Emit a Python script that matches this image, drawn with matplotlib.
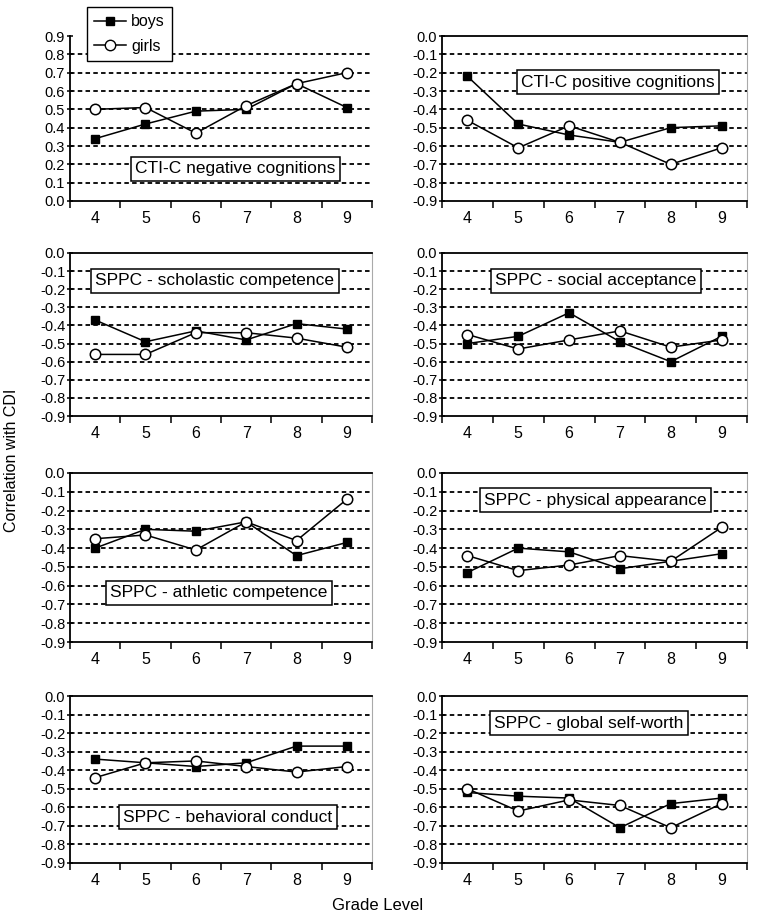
import numpy as np
import matplotlib
matplotlib.use("Agg")
import matplotlib.pyplot as plt
from matplotlib.lines import Line2D

plt.rcParams['font.family'] = ['Liberation Sans', 'DejaVu Sans']
plt.rcParams['axes.unicode_minus'] = False

grades = [4, 5, 6, 7, 8, 9]

titles = [
    "CTI-C negative cognitions",
    "CTI-C positive cognitions",
    "SPPC - scholastic competence",
    "SPPC - social acceptance",
    "SPPC - athletic competence",
    "SPPC - physical appearance",
    "SPPC - behavioral conduct",
    "SPPC - global self-worth",
]

boys_neg_cog = [0.34, 0.42, 0.49, 0.50, 0.64, 0.51]
girls_neg_cog = [0.50, 0.51, 0.37, 0.52, 0.64, 0.70]
boys_pos_cog = [-0.22, -0.48, -0.54, -0.58, -0.50, -0.49]
girls_pos_cog = [-0.46, -0.61, -0.49, -0.58, -0.70, -0.61]
boys_scholastic = [-0.37, -0.49, -0.43, -0.48, -0.39, -0.42]
girls_scholastic = [-0.56, -0.56, -0.44, -0.44, -0.47, -0.52]
boys_social = [-0.50, -0.46, -0.33, -0.49, -0.60, -0.46]
girls_social = [-0.45, -0.53, -0.48, -0.43, -0.52, -0.48]
boys_athletic = [-0.40, -0.30, -0.31, -0.26, -0.44, -0.37]
girls_athletic = [-0.35, -0.33, -0.41, -0.26, -0.36, -0.14]
boys_physical = [-0.53, -0.40, -0.42, -0.51, -0.47, -0.43]
girls_physical = [-0.44, -0.52, -0.49, -0.44, -0.47, -0.29]
boys_behavior = [-0.34, -0.36, -0.38, -0.36, -0.27, -0.27]
girls_behavior = [-0.44, -0.36, -0.35, -0.38, -0.41, -0.38]
boys_global = [-0.52, -0.54, -0.55, -0.71, -0.58, -0.55]
girls_global = [-0.50, -0.62, -0.56, -0.59, -0.71, -0.58]

boys = [boys_neg_cog, boys_pos_cog, boys_scholastic, boys_social,
        boys_athletic, boys_physical, boys_behavior, boys_global]
girls = [girls_neg_cog, girls_pos_cog, girls_scholastic, girls_social,
         girls_athletic, girls_physical, girls_behavior, girls_global]

pos_ticks = [0.0, 0.1, 0.2, 0.3, 0.4, 0.5, 0.6, 0.7, 0.8, 0.9]
neg_ticks = [0.0, -0.1, -0.2, -0.3, -0.4, -0.5, -0.6, -0.7, -0.8, -0.9]

# box centre (axes fraction) for each panel label
box_pos = [(0.547, 0.195), (0.578, 0.72), (0.48, 0.83), (0.505, 0.83),
           (0.493, 0.29), (0.503, 0.84), (0.523, 0.274), (0.482, 0.838)]

fig = plt.figure(figsize=(7.57, 9.19), dpi=100)

W, H = 757.0, 919.0
cols = [(70, 372), (442, 747)]
rows = [(36, 201), (253, 416), (473, 642), (696, 863)]

for i in range(8):
    r, c = divmod(i, 2)
    x0, x1 = cols[c]
    y0, y1 = rows[r]
    ax = fig.add_axes([x0 / W, 1 - y1 / H, (x1 - x0) / W, (y1 - y0) / H])

    ax.plot(grades, boys[i], color='black', lw=1.1, marker='s', ms=5.5,
            mfc='black', mec='black', zorder=3)
    ax.plot(grades, girls[i], color='black', lw=1.1, marker='o', ms=7.5,
            mfc='white', mec='black', mew=1.1, zorder=4)

    ticks = pos_ticks if i == 0 else neg_ticks
    ax.set_ylim(min(ticks), max(ticks))
    ax.set_yticks(ticks)
    ax.set_yticklabels([f"{abs(t):.1f}" if t == 0 else f"{t:.1f}" for t in ticks],
                       fontsize=10.5)
    for t in ticks[1:-1]:
        ax.axhline(t, color='black', lw=1.3, ls=(0, (2.5, 1.8)), zorder=1)

    ax.set_xlim(3.5, 9.5)
    ax.set_xticks(grades)
    ax.set_xticklabels([str(g) for g in grades], fontsize=11.5)
    ax.set_xticks(np.arange(3.5, 10, 1), minor=True)
    ax.tick_params(axis='x', which='major', length=0, pad=7)
    ax.tick_params(axis='x', which='minor', length=5, width=1.1, direction='out')
    ax.tick_params(axis='y', length=5, width=1.1, direction='inout', pad=1)

    for s in ax.spines.values():
        s.set_linewidth(1.3)
    if i == 0:
        ax.spines['top'].set_visible(False)
        ax.spines['right'].set_visible(False)
    else:
        ax.spines['right'].set_color('#aaaaaa')
        ax.spines['right'].set_linewidth(0.8)

    bx, by = box_pos[i]
    ax.text(bx, by, titles[i], transform=ax.transAxes, ha='center', va='center',
            fontsize=12.5, zorder=5,
            bbox=dict(boxstyle='square,pad=0.25', fc='white', ec='black', lw=1.1))

fig.text(12 / W, 1 - 460 / H, "Correlation with CDI", rotation=90,
         ha='center', va='center', fontsize=11.5)
fig.text(378 / W, 1 - 905 / H, "Grade Level", ha='center', va='center',
         fontsize=12)

handles = [
    Line2D([], [], color='black', lw=1.1, marker='s', ms=5.5, mfc='black'),
    Line2D([], [], color='black', lw=1.1, marker='o', ms=7.5, mfc='white'),
]
fig.legend(handles, ['boys', 'girls'], loc='upper left',
           bbox_to_anchor=(87 / W, 1 - 7 / H), fontsize=11.5, frameon=True,
           fancybox=False, edgecolor='black', framealpha=1, handlelength=2.0,
           borderpad=0.45, labelspacing=0.6, handletextpad=0.3,
           borderaxespad=0)

fig.savefig("out.png", dpi=100)
